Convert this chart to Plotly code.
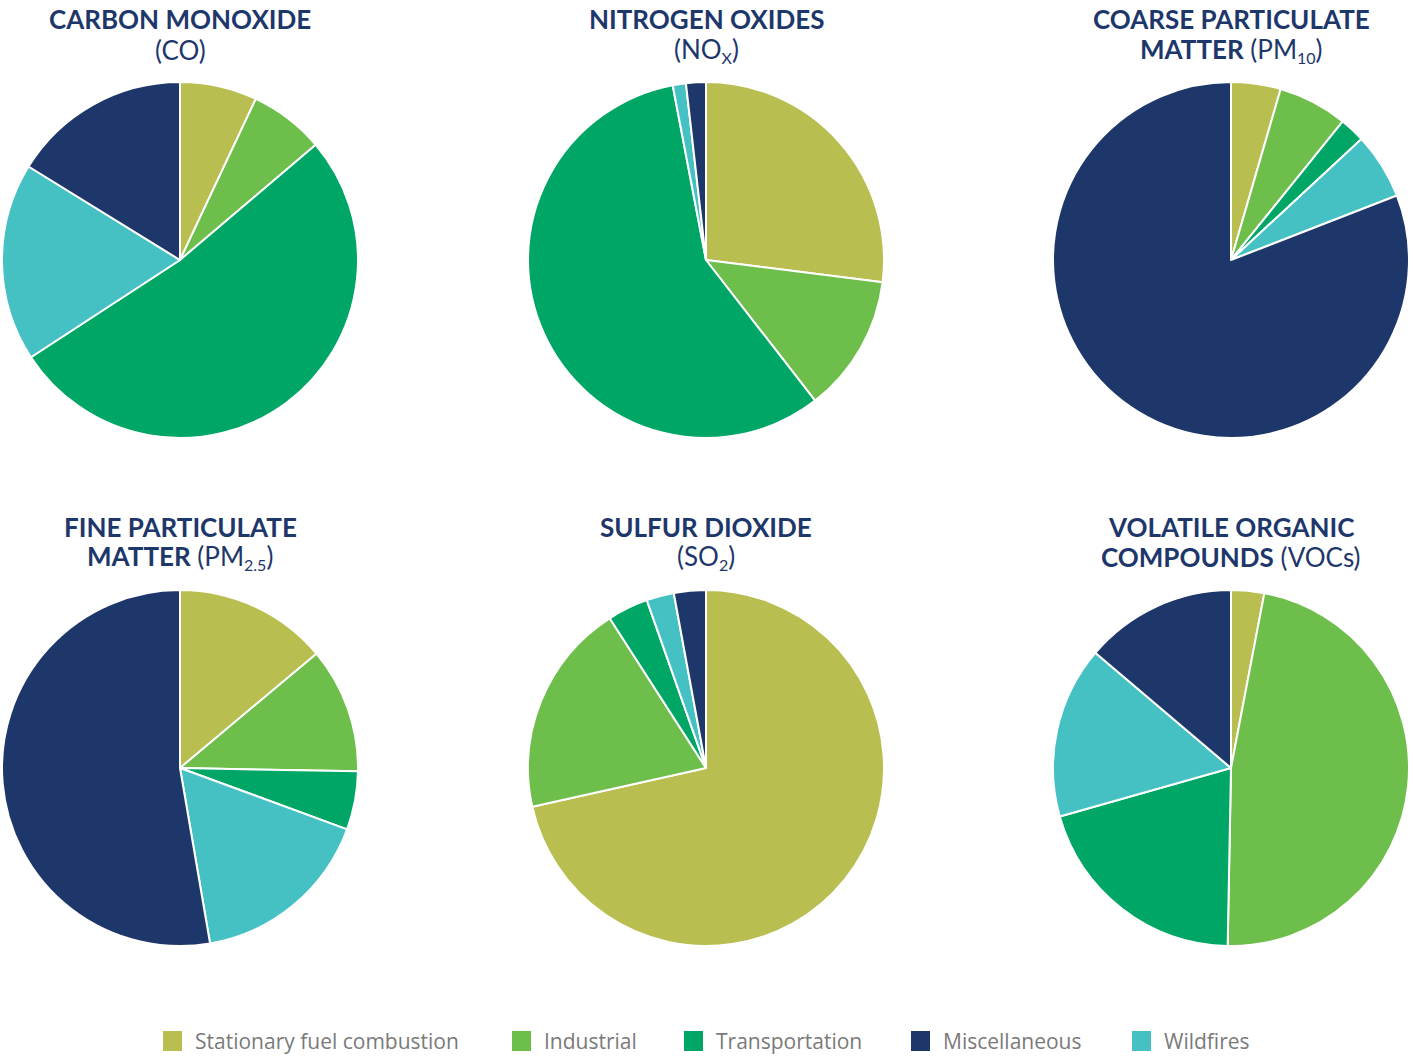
import plotly.graph_objects as go

categories = ["Stationary fuel combustion", "Industrial", "Transportation", "Wildfires", "Miscellaneous"]
colors = ["#B8BE4F", "#6DBE4B", "#00A665", "#45C1C4", "#1E376B"]

co_values = [7.0, 6.8, 52.0, 18.0, 16.2]
nox_values = [27.0, 12.5, 57.5, 1.2, 1.8]
pm10_values = [4.5, 6.3, 2.3, 6.0, 80.9]
pm25_values = [13.9, 11.4, 5.3, 16.7, 52.7]
so2_values = [71.5, 19.4, 3.7, 2.5, 2.9]
voc_values = [3.0, 47.3, 20.3, 15.6, 13.8]

SUB = '<sub><span style="font-size:16px">{}</span></sub>'
titles_line1 = ["<b>CARBON MONOXIDE</b>", "<b>NITROGEN OXIDES</b>", "<b>COARSE PARTICULATE</b>",
                "<b>FINE PARTICULATE</b>", "<b>SULFUR DIOXIDE</b>", "<b>VOLATILE ORGANIC</b>"]
titles_line2 = ["(CO)", "(NO" + SUB.format("X") + ")", "<b>MATTER</b> (PM" + SUB.format("10") + ")",
                "<b>MATTER</b> (PM" + SUB.format("2.5") + ")", "(SO" + SUB.format("2") + ")",
                "<b>COMPOUNDS</b> (VOCs)"]

legend_order = ["Stationary fuel combustion", "Industrial", "Transportation", "Miscellaneous", "Wildfires"]

W, H = 1413, 1057
R = 178
centers = [(180, 260), (706, 260), (1231, 260), (180, 768), (706, 768), (1231, 768)]
series = [co_values, nox_values, pm10_values, pm25_values, so2_values, voc_values]

fig = go.Figure()
for (cx, cy), vals in zip(centers, series):
    fig.add_trace(go.Pie(
        labels=categories, values=vals, sort=False, direction="clockwise", rotation=0,
        marker=dict(colors=colors, line=dict(color="white", width=2)),
        textinfo="none", hoverinfo="label+value", showlegend=False,
        domain=dict(x=[(cx - R) / W, (cx + R) / W], y=[(H - cy - R) / H, (H - cy + R) / H]),
    ))

navy = "#1E376B"
annots = []
title_y = [(19, 50), (19, 50), (19, 50), (527, 557), (527, 557), (527, 557)]
for (cx, cy), t1, t2, (y1, y2) in zip(centers, titles_line1, titles_line2, title_y):
    annots.append(dict(x=cx / W, y=1 - y1 / H, xref="paper", yref="paper", text=t1, showarrow=False,
                       xanchor="center", yanchor="middle",
                       font=dict(family="Lato", size=26, color=navy)))
    annots.append(dict(x=cx / W, y=1 - y2 / H, xref="paper", yref="paper", text=t2, showarrow=False,
                       xanchor="center", yanchor="middle",
                       font=dict(family="Lato", size=26, color=navy)))

shapes = []
legend_x = [163, 512, 684, 911, 1132]
color_map = dict(zip(categories, colors))
for lx, name in zip(legend_x, legend_order):
    shapes.append(dict(type="rect", xref="paper", yref="paper",
                       x0=lx / W, x1=(lx + 19) / W, y0=1 - 1051 / H, y1=1 - 1031 / H,
                       fillcolor=color_map[name], line=dict(width=0)))
    annots.append(dict(x=(lx + 30) / W, y=1 - 1041 / H, xref="paper", yref="paper", text=name,
                       showarrow=False, xanchor="left", yanchor="middle",
                       font=dict(family="Open Sans", size=21, color="#7A7A7A")))

fig.update_layout(
    width=W, height=H, margin=dict(l=0, r=0, t=0, b=0),
    paper_bgcolor="white", plot_bgcolor="white",
    annotations=annots, shapes=shapes, showlegend=False,
)
fig.write_html("out.html", config={"displayModeBar": False},
               post_script="document.body.style.margin='0';document.body.style.overflow='hidden';")
